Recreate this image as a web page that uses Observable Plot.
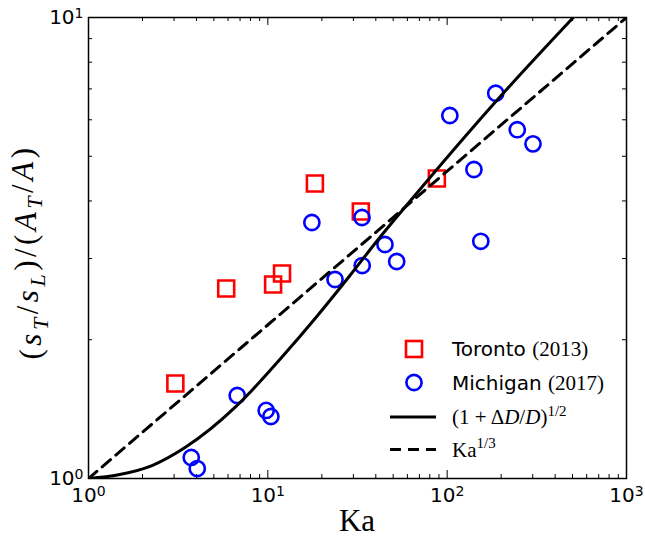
<!DOCTYPE html>
<html><head><meta charset="utf-8">
<script src="https://cdn.jsdelivr.net/npm/d3@7"></script>
<script src="https://cdn.jsdelivr.net/npm/@observablehq/plot@0.6"></script>
<style>body{margin:0;background:#fff} svg{display:block}</style>
</head><body><div id="chart"></div>
<script>
// ---- data ----
const torontoKa    = [3.05, 5.86, 10.7, 12.0, 18.3, 33.0, 87.6];
const torontoRatio = [1.607, 2.583, 2.635, 2.784, 4.364, 3.795, 4.474];
const michiganKa    = [3.74, 4.04, 6.75, 9.79, 10.4, 17.6, 23.7, 33.5, 45.0, 33.6, 52.3, 103.5, 186.6, 246, 301, 141, 154];
const michiganRatio = [1.111, 1.051, 1.514, 1.405, 1.363, 3.592, 2.702, 3.683, 3.218, 2.897, 2.956, 6.13, 6.85, 5.71, 5.32, 4.68, 3.27];
const modelKa    = [1, 1.47, 2.26, 3.47, 6.58, 7.97, 12.2, 18.75, 28.7, 40.4, 63.6, 189, 505];
const modelRatio = [1, 1.019, 1.067, 1.169, 1.428, 1.539, 1.848, 2.246, 2.756, 3.267, 4.04, 6.607, 10];
const powerKa    = [1, 1000];
const powerRatio = [1, 10];
const xTickValues = [1, 10, 100, 1000];
const yTickValues = [1, 10];
const minorMultipliers = [2, 3, 4, 5, 6, 7, 8, 9];
const legendLabels = ["Toronto", "(2013)", "Michigan", "(2017)"];

// ---- layout ----
const W = 645, H = 537;
const mL = 88, mR = 19, mT = 17, mB = 59;
const innerH = H - mT - mB, innerW = W - mL - mR;

const toronto = torontoKa.map((k, i) => ({ka: k, r: torontoRatio[i]}));
const michigan = michiganKa.map((k, i) => ({ka: k, r: michiganRatio[i]}));
const model = modelKa.map((k, i) => ({ka: k, r: modelRatio[i]}));
const power = powerKa.map((k, i) => ({ka: k, r: powerRatio[i]}));
const xMinor = [1, 10, 100].flatMap(d => minorMultipliers.map(m => d * m));
const yMinor = minorMultipliers.slice();

const fmt = d => "10^" + Math.round(Math.log10(d));

const plot = Plot.plot({
  width: W, height: H,
  marginLeft: mL, marginRight: mR, marginTop: mT, marginBottom: mB,
  style: {fontFamily: "DejaVu Sans", fontSize: "20px", background: "white", color: "black", overflow: "visible"},
  x: {type: "log", domain: [1, 1000], label: null},
  y: {type: "log", domain: [1, 10], label: null},
  marks: [
    Plot.ruleX(xTickValues, {insetTop: innerH - 8, stroke: "black", strokeWidth: 1}),
    Plot.ruleX(xTickValues, {insetBottom: innerH - 8, stroke: "black", strokeWidth: 1}),
    Plot.ruleX(xMinor, {insetTop: innerH - 4, stroke: "black", strokeWidth: 1}),
    Plot.ruleX(xMinor, {insetBottom: innerH - 4, stroke: "black", strokeWidth: 1}),
    Plot.ruleY(yTickValues, {insetRight: innerW - 8, stroke: "black", strokeWidth: 1}),
    Plot.ruleY(yTickValues, {insetLeft: innerW - 8, stroke: "black", strokeWidth: 1}),
    Plot.ruleY(yMinor, {insetRight: innerW - 4, stroke: "black", strokeWidth: 1}),
    Plot.ruleY(yMinor, {insetLeft: innerW - 4, stroke: "black", strokeWidth: 1}),
    Plot.dot(toronto, {x: "ka", y: "r", symbol: "square", r: 9, stroke: "#ff0000", strokeWidth: 2.6, fill: "none"}),
    Plot.dot(michigan, {x: "ka", y: "r", symbol: "circle", r: 7.6, stroke: "#0000ff", strokeWidth: 2.6, fill: "none"}),
    Plot.line(model, {x: "ka", y: "r", stroke: "black", strokeWidth: 3, curve: "monotone-x", clip: true}),
    Plot.line(power, {x: "ka", y: "r", stroke: "black", strokeWidth: 3, strokeDasharray: "11,7", clip: true}),
    Plot.frame({stroke: "black", strokeWidth: 1.5}),
    Plot.axisX(xTickValues, {tickSize: 0, tickPadding: 9, tickFormat: fmt, fontSize: 20}),
    Plot.axisY(yTickValues, {tickSize: 0, tickPadding: 5, tickFormat: fmt, fontSize: 20})
  ]
});
document.getElementById("chart").appendChild(plot);

// superscript exponents in tick labels
plot.querySelectorAll('g[aria-label$="tick label"] text').forEach(t => {
  const s = t.textContent;
  if (!s.includes("^")) return;
  const [base, exp] = s.split("^");
  t.textContent = "";
  const a = document.createElementNS("http://www.w3.org/2000/svg", "tspan");
  a.textContent = base; t.appendChild(a);
  const b = document.createElementNS("http://www.w3.org/2000/svg", "tspan");
  b.textContent = exp; b.setAttribute("dy", "-0.42em"); b.setAttribute("font-size", "14px");
  t.appendChild(b);
});

const svg = d3.select(plot);
const serif = "Liberation Serif";

const addT = (sel, txt, opts = {}) => {
  const t = sel.append("tspan").text(txt);
  if (opts.italic) t.attr("font-style", "italic");
  if (opts.dy) t.attr("dy", opts.dy);
  if (opts.size) t.attr("font-size", opts.size);
  if (opts.family) t.attr("font-family", opts.family);
  return t;
};

// axis labels
svg.append("text").attr("x", mL + innerW / 2).attr("y", 531).attr("text-anchor", "middle")
  .attr("font-family", serif).attr("font-size", 31).attr("fill", "black").text("Ka");

const yl = svg.append("text").attr("transform", "translate(41,252) rotate(-90)")
  .attr("text-anchor", "middle").attr("font-family", serif).attr("font-size", 31)
  .attr("letter-spacing", 3.5).attr("fill", "black");
addT(yl, "(");
addT(yl, "s", {italic: true});
addT(yl, "T", {italic: true, dy: "0.3em", size: 22});
addT(yl, "/", {dy: "-0.3em"});
addT(yl, "s", {italic: true});
addT(yl, "L", {italic: true, dy: "0.3em", size: 22});
addT(yl, ")/(", {dy: "-0.3em"});
addT(yl, "A", {italic: true});
addT(yl, "T", {italic: true, dy: "0.3em", size: 22});
addT(yl, "/", {dy: "-0.3em"});
addT(yl, "A", {italic: true});
addT(yl, ")");

// legend
const lg = svg.append("g").attr("text-anchor", "start");
const symX = 414, textX = 452;
const rows = [349, 382.5, 417, 449.5];
lg.append("rect").attr("x", symX - 8).attr("y", rows[0] - 8).attr("width", 16).attr("height", 16)
  .attr("fill", "none").attr("stroke", "#ff0000").attr("stroke-width", 2.6);
lg.append("circle").attr("cx", symX).attr("cy", rows[1]).attr("r", 7.6)
  .attr("fill", "none").attr("stroke", "#0000ff").attr("stroke-width", 2.6);
lg.append("line").attr("x1", 390).attr("x2", 436).attr("y1", rows[2]).attr("y2", rows[2])
  .attr("stroke", "black").attr("stroke-width", 3);
lg.append("line").attr("x1", 390).attr("x2", 436).attr("y1", rows[3]).attr("y2", rows[3])
  .attr("stroke", "black").attr("stroke-width", 3).attr("stroke-dasharray", "11,7");

const mkText = (y, family, size) => lg.append("text").attr("x", textX).attr("y", y)
  .attr("text-anchor", "start").attr("font-family", family).attr("font-size", size).attr("fill", "black");
const t1 = mkText(rows[0] + 7.3, "DejaVu Sans", 20);
addT(t1, legendLabels[0] + " ");
addT(t1, legendLabels[1], {family: serif, size: 21});
const t2 = mkText(rows[1] + 7.3, "DejaVu Sans", 20);
addT(t2, legendLabels[2] + " ");
addT(t2, legendLabels[3], {family: serif, size: 21});
const t3 = mkText(rows[2] + 7, serif, 21);
addT(t3, "(1 + Δ");
addT(t3, "D", {italic: true});
addT(t3, "/");
addT(t3, "D", {italic: true});
addT(t3, ")");
addT(t3, "1/2", {dy: "-0.55em", size: 15});
const t4 = mkText(rows[3] + 7, serif, 21);
addT(t4, "Ka");
addT(t4, "1/3", {dy: "-0.55em", size: 15});
</script>
</body></html>
